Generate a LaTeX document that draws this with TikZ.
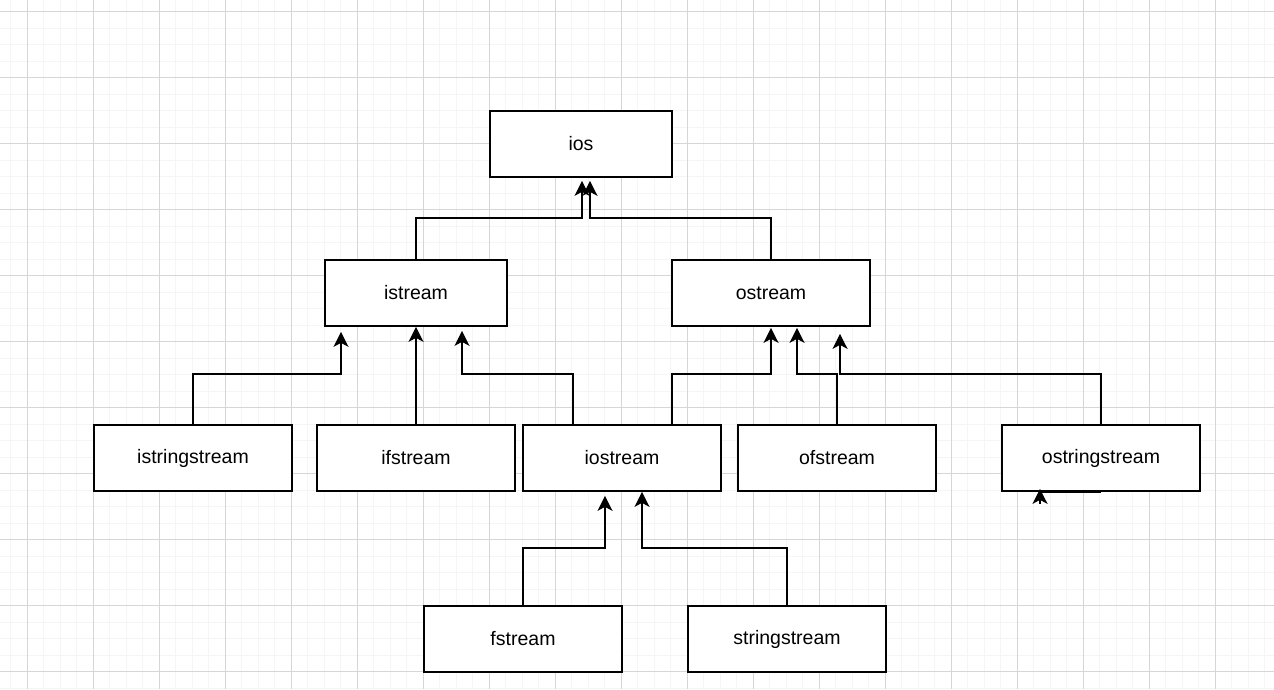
\documentclass[tikz,border=0pt]{standalone}
\usepackage{fontspec}
\setmainfont{Liberation Sans}
\usetikzlibrary{arrows.meta}
\definecolor{gridminor}{HTML}{F5F5F5}
\definecolor{gridmajor}{HTML}{D6D6D6}
\tikzset{
  classbox/.style={draw=black, line width=1.7pt, fill=white, minimum height=66pt, inner sep=0pt, font=\fontsize{19.5}{22}\selectfont},
  wide/.style={minimum width=198pt},
  narrow/.style={minimum width=182pt},
  inh/.style={draw=black, line width=1.7pt, -{Stealth[length=15pt,width=15pt,inset=4pt]}},
  plain/.style={draw=black, line width=1.7pt},
  minorline/.style={draw=gridminor, line width=1pt},
  majorline/.style={draw=gridmajor, line width=1pt}
}
\begin{document}
\begin{tikzpicture}[x=1pt,y=-1pt]
\useasboundingbox (0,0) rectangle (1274,689);
\fill[white] (0,0) rectangle (1274,689);
\begin{scope}
\clip (0,0) rectangle (1274,689);
\foreach \i in {0,...,77} {\draw[minorline] ({10.8+16.5*\i},0) -- ({10.8+16.5*\i},689);}
\foreach \j in {0,...,42} {\draw[minorline] (0,{-4.8+16.5*\j}) -- (1274,{-4.8+16.5*\j});}
\foreach \i in {0,...,19} {\draw[majorline] ({27.3+66*\i},0) -- ({27.3+66*\i},689);}
\foreach \j in {0,...,10} {\draw[majorline] (0,{11.7+66*\j}) -- (1274,{11.7+66*\j});}
\end{scope}

% nodes
\node[classbox, narrow] (ios) at (581,144) {ios};
\node[classbox, narrow] (istream) at (416,293) {istream};
\node[classbox, wide] (ostream) at (771,293) {ostream};
\node[classbox, wide] (istringstream) at (193,458) {istringstream};
\node[classbox, wide] (ifstream) at (416,458) {ifstream};
\node[classbox, wide] (iostream) at (622,458) {iostream};
\node[classbox, wide] (ofstream) at (837,458) {ofstream};
\node[classbox, wide] (ostringstream) at (1101,458) {ostringstream};
\node[classbox, wide] (fstream) at (523,639) {fstream};
\node[classbox, wide] (stringstream) at (787,639) {stringstream};

% connectors
\draw[inh] (istream.north) -- ++(0,-41) -| ([xshift=1pt,yshift=-3pt]ios.south);
\draw[inh] (ostream.north) -- ++(0,-41) -| ([xshift=9pt,yshift=-3pt]ios.south);
\draw[inh] (istringstream.north) -- ++(0,-50) -| ([xshift=-75pt,yshift=-5pt]istream.south);
\draw[inh] (ifstream.north) -- (istream.south);
\draw[inh] ([xshift=-49pt]iostream.north) -- ++(0,-50) -| ([xshift=46pt,yshift=-4pt]istream.south);
\draw[inh] ([xshift=50pt]iostream.north) -- ++(0,-50) -| ([yshift=-1pt]ostream.south);
\draw[inh] (ofstream.north) -- ++(0,-50) -| ([xshift=26pt,yshift=-1pt]ostream.south);
\draw[inh] (ostringstream.north) -- ++(0,-50) -| ([xshift=69pt,yshift=-7pt]ostream.south);
\draw[inh] (fstream.north) -- ++(0,-57) -| ([xshift=-17pt,yshift=-4pt]iostream.south);
\draw[inh] (stringstream.north) -- ++(0,-57) -| ([xshift=20pt]iostream.south);

% stray edge on ostringstream
\draw[plain, line width=2pt] (ostringstream.south) -- ([xshift=-61pt]ostringstream.south);
\draw[inh] ([xshift=-61pt,yshift=-12pt]ostringstream.south) -- ([xshift=-61pt,yshift=3pt]ostringstream.south);
\end{tikzpicture}
\end{document}
